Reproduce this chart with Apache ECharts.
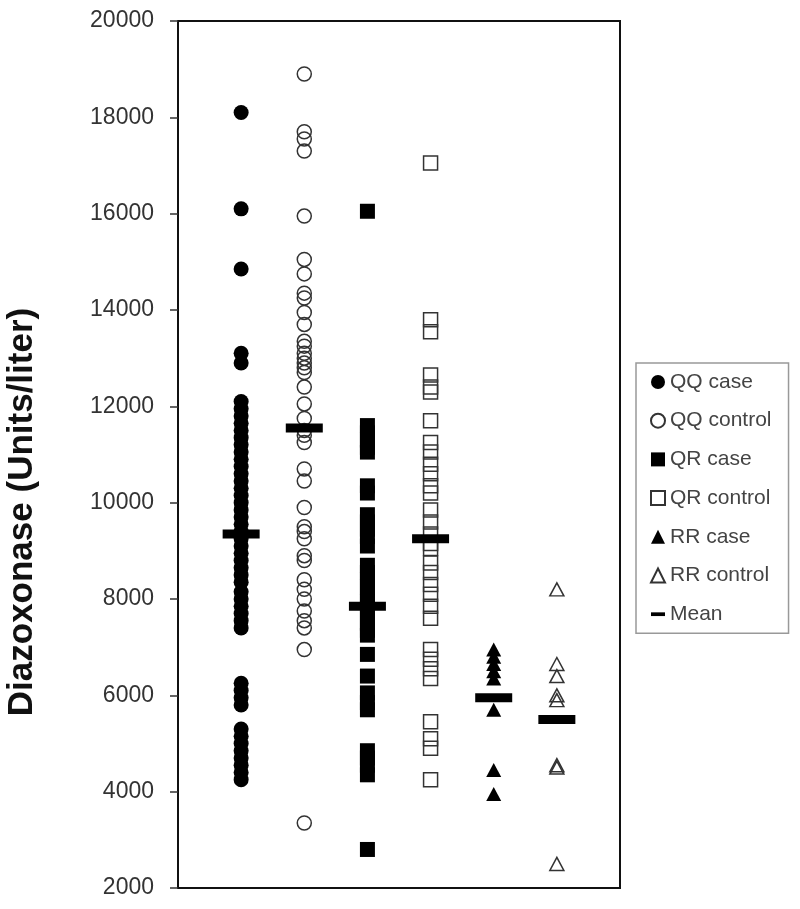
<!DOCTYPE html>
<html>
<head>
<meta charset="utf-8">
<script src="https://cdn.jsdelivr.net/npm/echarts@6/dist/echarts.min.js"></script>
<style>
html, body { margin: 0; padding: 0; background: #fff; }
#chart { width: 800px; height: 909px; }
</style>
</head>
<body>
<div id="chart"></div>
<script>
var groups = ['QQ case', 'QQ control', 'QR case', 'QR control', 'RR case', 'RR control'];
var qqCase = [18100, 16100, 14850, 13100, 12900, 12100, 11950, 11800, 11650, 11500, 11350, 11200,
    11050, 10900, 10750, 10600, 10450, 10300, 10150, 10000, 9850, 9700, 9550, 9400, 9250, 9100,
    8950, 8800, 8650, 8500, 8350, 8150, 8000, 7850, 7700, 7550, 7400, 6250, 6100, 5950, 5800,
    5300, 5150, 5000, 4850, 4700, 4550, 4400, 4250];
var qqControl = [18900, 17700, 17550, 17300, 15950, 15050, 14750, 14350, 14250, 13950, 13700,
    13350, 13250, 13100, 13000, 12900, 12800, 12700, 12400, 12050, 11750, 11500, 11400, 11250,
    10700, 10450, 9900, 9500, 9400, 9250, 8900, 8800, 8400, 8200, 8000, 7750, 7550, 7400, 6950, 3350];
var qrCase = [16050, 11600, 11450, 11300, 11150, 11050, 10350, 10200, 9750, 9600, 9450, 9300,
    9100, 8700, 8550, 8400, 8250, 8100, 7950, 7800, 7650, 7500, 7350, 7250, 6850, 6400, 6050,
    5850, 5700, 4850, 4700, 4550, 4350, 2800];
var qrControl = [17050, 13800, 13550, 12650, 12400, 12300, 11700, 11250, 11050, 10800, 10600,
    10350, 10200, 9850, 9600, 9350, 9150, 9050, 8750, 8550, 8300, 8100, 7850, 7600, 6950, 6750,
    6550, 6350, 5450, 5100, 4900, 4250];
var rrCase = [6950, 6800, 6650, 6500, 6350, 5700, 4450, 3950];
var rrControl = [8200, 6650, 6400, 6000, 5900, 4550, 4500, 2500];
var means = [9350, 11550, 7850, 9250, 5950, 5500];

var font = 'Liberation Sans, Arial, sans-serif';

function pts(values, col) {
    return values.map(function (v) { return [col, v]; });
}

function filled(name, values, col, symbol, size) {
    return {
        name: name,
        type: 'scatter',
        symbol: symbol,
        symbolSize: size,
        data: pts(values, col),
        itemStyle: { color: '#000', opacity: 1 }
    };
}

function hollow(name, values, col, symbol, size) {
    return {
        name: name,
        type: 'scatter',
        symbol: symbol,
        symbolSize: size,
        data: pts(values, col),
        itemStyle: { color: 'rgba(255,255,255,0)', borderColor: '#333', borderWidth: 1.5, opacity: 1 }
    };
}

var chart = echarts.init(document.getElementById('chart'));
var option = {
    animation: false,
    grid: {
        left: 178,
        right: 180,
        top: 21,
        bottom: 21,
        show: true,
        borderColor: '#111',
        borderWidth: 2
    },
    xAxis: {
        type: 'value',
        min: 0,
        max: 7,
        show: false
    },
    yAxis: {
        type: 'value',
        min: 2000,
        max: 20000,
        interval: 2000,
        splitLine: { show: false },
        axisLine: { show: true, lineStyle: { color: '#111', width: 2 } },
        axisTick: { show: true, length: 8, lineStyle: { color: '#333', width: 1.5 } },
        axisLabel: {
            fontSize: 23,
            color: '#333',
            margin: 24,
            fontFamily: font,
            formatter: function (v) { return String(v); }
        }
    },
    legend: {
        orient: 'vertical',
        left: 636,
        top: 363,
        padding: [8, 17, 8, 14],
        itemWidth: 14,
        itemHeight: 14,
        itemGap: 16.7,
        borderColor: '#999',
        borderWidth: 1.5,
        textStyle: { fontSize: 21, color: '#444', lineHeight: 22, fontFamily: font },
        data: groups.concat([{ name: 'Mean', icon: 'path://M0,0 L15,0 L15,4 L0,4 Z' }])
    },
    graphic: [{
        type: 'text',
        x: 22,
        y: 512,
        rotation: Math.PI / 2,
        style: {
            text: 'Diazoxonase (Units/liter)',
            fontSize: 35,
            fontWeight: 'bold',
            fontFamily: font,
            fill: '#111',
            textAlign: 'center',
            textVerticalAlign: 'middle'
        }
    }],
    series: [
        filled('QQ case', qqCase, 1, 'circle', 15),
        hollow('QQ control', qqControl, 2, 'circle', 14),
        filled('QR case', qrCase, 3, 'rect', 15),
        hollow('QR control', qrControl, 4, 'rect', 14),
        filled('RR case', rrCase, 5, 'triangle', [15, 14]),
        hollow('RR control', rrControl, 6, 'triangle', [14, 13]),
        {
            name: 'Mean',
            type: 'scatter',
            symbol: 'rect',
            symbolSize: [37, 9],
            z: 5,
            data: means.map(function (v, i) { return [i + 1, v]; }),
            itemStyle: { color: '#000', opacity: 1 }
        }
    ]
};
chart.setOption(option);
</script>
</body>
</html>
